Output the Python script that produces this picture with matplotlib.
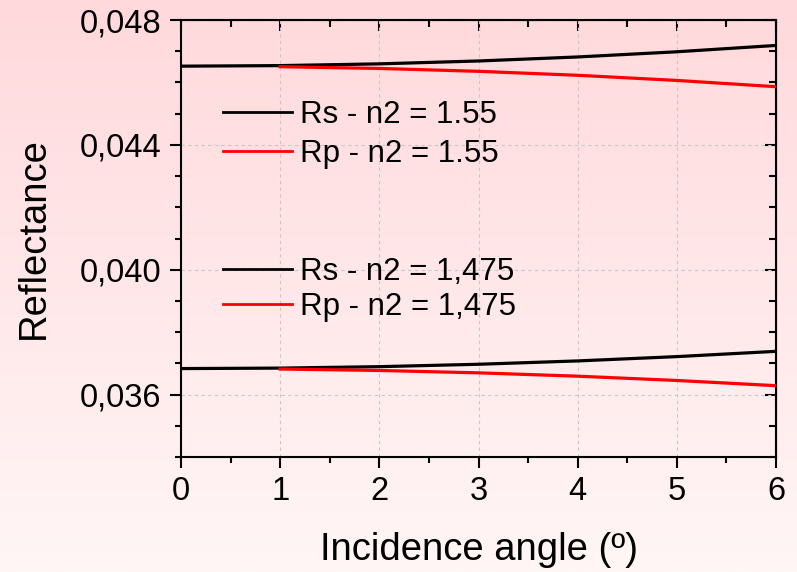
import numpy as np
import matplotlib
matplotlib.use("Agg")
import matplotlib.pyplot as plt
from matplotlib.lines import Line2D
from matplotlib.ticker import MultipleLocator, FuncFormatter

plt.rcParams['font.family'] = ['Liberation Sans', 'DejaVu Sans']

# Valeurs
angle = [0, 1, 2, 3, 4, 5, 6]
angle_p = [1, 2, 3, 4, 5, 6]

rs_155 = [0.046521, 0.046539, 0.046595, 0.046687, 0.046816, 0.046982, 0.047185]
rp_155 = [0.046503, 0.046448, 0.046356, 0.046229, 0.046064, 0.045863]
rs_1475 = [0.036833, 0.036848, 0.036894, 0.036971, 0.037078, 0.037216, 0.037385]
rp_1475 = [0.036818, 0.036772, 0.036696, 0.036589, 0.036452, 0.036285]

labels_155 = ["Rs - n2 = 1.55", "Rp - n2 = 1.55"]
labels_1475 = ["Rs - n2 = 1,475", "Rp - n2 = 1,475"]

fig = plt.figure(figsize=(7.97, 5.72), dpi=100)

# fond dégradé rose -> blanc
bg = fig.add_axes([0, 0, 1, 1], zorder=-10)
grad = np.linspace(0, 1, 256).reshape(-1, 1)
top = np.array([255, 217, 220]) / 255
bot = np.array([255, 246, 246]) / 255
img = top + (bot - top) * grad[:, :, None]
bg.imshow(img, aspect='auto', extent=[0, 1, 0, 1])
bg.axis('off')

ax = fig.add_axes([181 / 797, 1 - 457 / 572, (776 - 181) / 797, (457 - 20) / 572])
ax.patch.set_alpha(0)

ax.plot(angle, rs_155, color='black', lw=2.3, zorder=3)
ax.plot(angle_p, rp_155, color='red', lw=2.3, zorder=3)
ax.plot(angle, rs_1475, color='black', lw=2.3, zorder=3)
ax.plot(angle_p, rp_1475, color='red', lw=2.3, zorder=3)

ax.set_xlim(0, 6)
ax.set_ylim(0.034, 0.048)
ax.xaxis.set_major_locator(MultipleLocator(1))
ax.xaxis.set_minor_locator(MultipleLocator(0.5))
ax.yaxis.set_major_locator(MultipleLocator(0.004))
ax.yaxis.set_minor_locator(MultipleLocator(0.001))
ax.yaxis.set_major_formatter(FuncFormatter(lambda v, p: f"{v:.3f}".replace('.', ',')))

ax.grid(True, which='major', color='#c8c8c8', linestyle=(0, (3, 3)), lw=0.8)

for s in ax.spines.values():
    s.set_linewidth(1.5)

ax.tick_params(which='both', labelsize=23.5, width=1.5, direction='out',
               top=False, right=False, pad=6)
ax.tick_params(which='major', length=8)
ax.tick_params(which='minor', length=4)

# ticks intérieurs en haut et à droite
axt = ax.secondary_xaxis('top')
axt.xaxis.set_major_locator(MultipleLocator(1))
axt.xaxis.set_minor_locator(MultipleLocator(0.5))
axt.tick_params(which='both', direction='in', width=1.5, labeltop=False)
axt.tick_params(which='major', length=8)
axt.tick_params(which='minor', length=5)
axr = ax.secondary_yaxis('right')
axr.yaxis.set_major_locator(MultipleLocator(0.004))
axr.yaxis.set_minor_locator(MultipleLocator(0.001))
axr.tick_params(which='both', direction='in', width=1.5, labelright=False)
axr.tick_params(which='major', length=8)
axr.tick_params(which='minor', length=5)

ax.set_xlabel("Incidence angle (º)", fontsize=27.5, labelpad=18)
ax.set_ylabel("Reflectance", fontsize=27.5, labelpad=20)

handles = [Line2D([], [], color='black', lw=2), Line2D([], [], color='red', lw=2)]
leg1 = ax.legend(handles, labels_155, loc='upper left', bbox_to_anchor=(0.05, 0.846),
                 frameon=False, fontsize=22.5, handlelength=2.2, handletextpad=0.25,
                 labelspacing=0.3, borderaxespad=0)
ax.add_artist(leg1)
ax.legend(handles, labels_1475, loc='upper left', bbox_to_anchor=(0.05, 0.487),
          frameon=False, fontsize=22.5, handlelength=2.2, handletextpad=0.25,
          labelspacing=0.18, borderaxespad=0)

fig.savefig("out.png", dpi=100)
